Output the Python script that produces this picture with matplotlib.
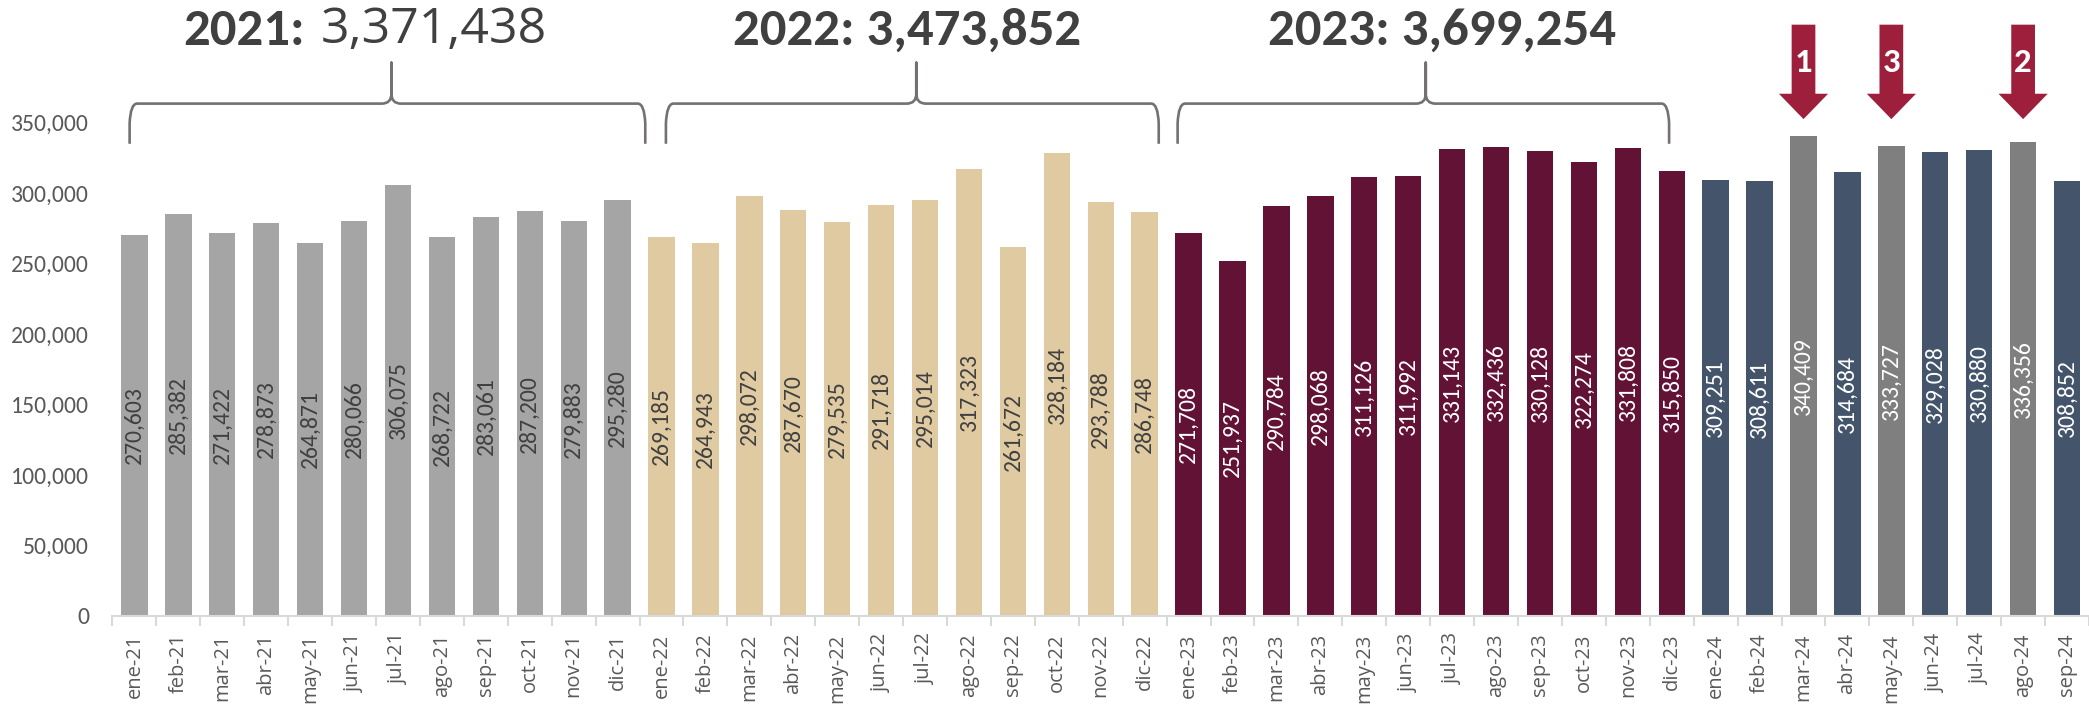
import numpy as np
import matplotlib
matplotlib.use("Agg")
import matplotlib.pyplot as plt
from matplotlib.path import Path
from matplotlib.patches import PathPatch, Polygon
from matplotlib import font_manager

# ---------------- data ----------------
months = ["ene", "feb", "mar", "abr", "may", "jun", "jul", "ago", "sep", "oct", "nov", "dic"]
years = ["21", "22", "23", "24"]
v2021 = [270603, 285382, 271422, 278873, 264871, 280066, 306075, 268722, 283061, 287200, 279883, 295280]
v2022 = [269185, 264943, 298072, 287670, 279535, 291718, 295014, 317323, 261672, 328184, 293788, 286748]
v2023 = [271708, 251937, 290784, 298068, 311126, 311992, 331143, 332436, 330128, 322274, 331808, 315850]
v2024 = [309251, 308611, 340409, 314684, 333727, 329028, 330880, 336356, 308852]
highlight = {"mar-24": "1", "may-24": "3", "ago-24": "2"}
yticks = [0, 50000, 100000, 150000, 200000, 250000, 300000, 350000]

series = [v2021, v2022, v2023, v2024]
labels = [f"{m}-{y}" for y, vals in zip(years, series) for m in months[:len(vals)]]
values = [v for vals in series for v in vals]
year_of = [y for y, vals in zip(years, series) for _ in vals]

year_color = {"21": "#A5A5A5", "22": "#DFCAA2", "23": "#621234", "24": "#44546A"}
label_color = {"21": "#404040", "22": "#404040", "23": "#FFFFFF", "24": "#FFFFFF"}
hl_color = "#7F7F7F"
arrow_color = "#9E1F3B"
brace_color = "#767171"
text_dark = "#404040"
tick_color = "#595959"

colors = [hl_color if lab in highlight else year_color[y] for lab, y in zip(labels, year_of)]
lcolors = ["#FFFFFF" if lab in highlight else label_color[y] for lab, y in zip(labels, year_of)]

# Calibri-like font if present, otherwise Lato
avail = {f.name for f in font_manager.fontManager.ttflist}
if "Carlito" in avail:
    cfont = "Carlito"
    s_tick, s_val, s_title, s_rank = 17, 17, 38, 25
else:
    cfont = "Lato"
    s_tick, s_val, s_title, s_rank = 15.5, 15, 37, 21

# ---------------- figure ----------------
fig = plt.figure(figsize=(20.89, 7.04), dpi=100)
ax = fig.add_axes([0.05385, 0.125, 0.94615, 0.7008])

x = np.arange(len(values))
ax.bar(x, values, width=0.6, color=colors, zorder=2)

for xi, v, lc in zip(x, values, lcolors):
    ax.text(xi, v / 2, f"{v:,}", rotation=90, ha="center", va="center",
            color=lc, fontsize=s_val, family=cfont, zorder=3)

ax.set_xlim(-0.5, 44.18)
ax.set_ylim(0, 350000)

ax.set_yticks(yticks)
ax.set_yticklabels([f"{t:,}" for t in yticks], family=cfont)
ax.tick_params(axis="y", length=0, pad=17, labelsize=s_tick, labelcolor=tick_color)

ax.set_xticks(x)
ax.set_xticklabels(labels, rotation=90, family="Open Sans")
ax.tick_params(axis="x", which="major", length=0, pad=12.5, labelsize=14.5, labelcolor=tick_color)
ax.set_xticks(np.arange(-0.5, len(values), 1), minor=True)
ax.tick_params(axis="x", which="minor", length=7, width=1.5, color="#D9D9D9")

for s in ["top", "right", "left"]:
    ax.spines[s].set_visible(False)
ax.spines["bottom"].set_color("#D9D9D9")
ax.spines["bottom"].set_linewidth(1.5)

# ---------------- braces ----------------
y_bot, y_h, y_peak = 335000, 363500, 392500
rx, ry = 0.12, 7000


def brace(xl, xr, xs):
    verts = [
        (xl, y_bot), (xl, y_h - 2 * ry),
        (xl + 0.02, y_h), (xl + rx + 0.05, y_h),
        (xs - 0.22, y_h),
        (xs, y_h), (xs, y_h + ry),
        (xs, y_peak),
        (xs, y_h + ry),
        (xs, y_h), (xs + 0.22, y_h),
        (xr - rx - 0.05, y_h),
        (xr - 0.02, y_h), (xr, y_h - 2 * ry),
        (xr, y_bot),
    ]
    codes = [Path.MOVETO, Path.LINETO,
             Path.CURVE3, Path.CURVE3,
             Path.LINETO,
             Path.CURVE3, Path.CURVE3,
             Path.LINETO,
             Path.LINETO,
             Path.CURVE3, Path.CURVE3,
             Path.LINETO,
             Path.CURVE3, Path.CURVE3,
             Path.LINETO]
    p = PathPatch(Path(verts, codes), fill=False, edgecolor=brace_color, lw=1.9,
                  clip_on=False, capstyle="butt", joinstyle="round")
    ax.add_patch(p)


brace_spans = [(-0.11, 11.63, 5.85), (12.1, 23.32, 17.8), (23.75, 34.94, 29.4)]
for xl, xr, xs in brace_spans:
    brace(xl, xr, xs)

# ---------------- year titles ----------------
totals = [sum(v2021), sum(v2022), sum(v2023)]
title_y = 415500
ax.text(3.89, title_y, "2021:", ha="right", va="center", fontsize=s_title, fontweight="bold",
        family=cfont, color=text_dark, clip_on=False)
ax.text(4.25, title_y, f"{totals[0]:,}", ha="left", va="center", fontsize=36,
        family="Open Sans", color=text_dark, clip_on=False)
ax.text(17.6, title_y, f"2022: {totals[1]:,}", ha="center", va="center", fontsize=s_title,
        fontweight="bold", family=cfont, color=text_dark, clip_on=False)
ax.text(29.77, title_y, f"2023: {totals[2]:,}", ha="center", va="center", fontsize=s_title,
        fontweight="bold", family=cfont, color=text_dark, clip_on=False)

# ---------------- ranking arrows ----------------
a_top, a_head, a_tip = 419500, 370500, 352500
sw, hw = 0.27, 0.56
for lab, rank in highlight.items():
    xi = labels.index(lab)
    poly = Polygon([(xi - sw, a_top), (xi + sw, a_top), (xi + sw, a_head), (xi + hw, a_head),
                    (xi, a_tip), (xi - hw, a_head), (xi - sw, a_head)],
                   closed=True, facecolor=arrow_color, edgecolor="none", clip_on=False, zorder=4)
    ax.add_patch(poly)
    ax.text(xi, 393000, rank, ha="center", va="center", color="white", fontsize=s_rank,
            fontweight="bold", family=cfont, clip_on=False, zorder=5)

fig.savefig("out.png", dpi=100)
